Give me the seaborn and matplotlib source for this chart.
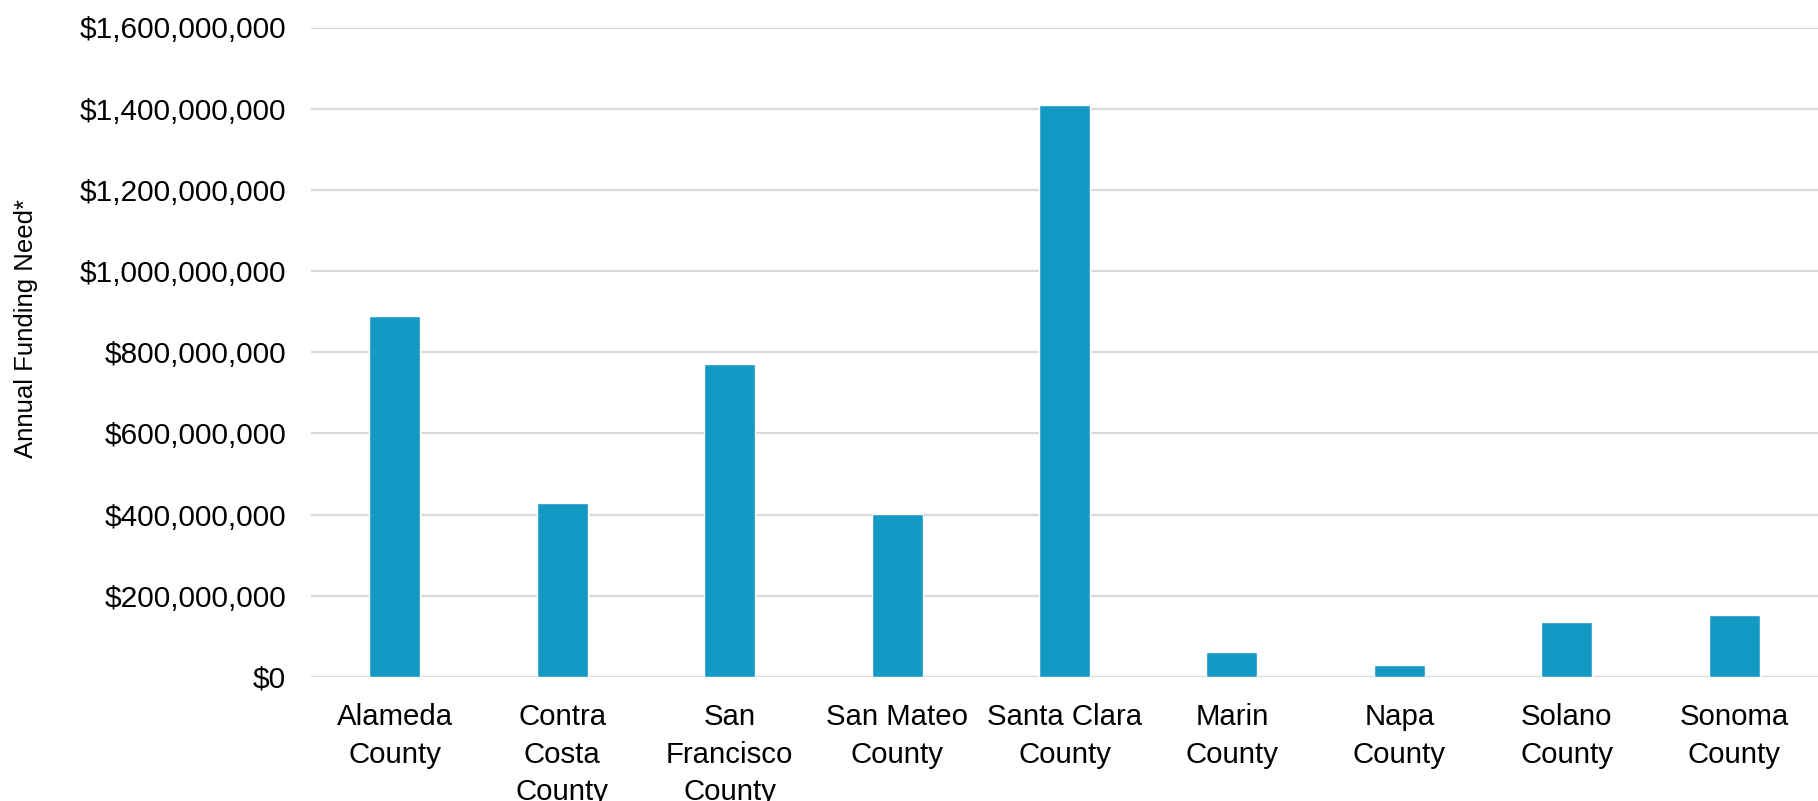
import matplotlib
matplotlib.use("Agg")
import matplotlib.pyplot as plt
import matplotlib.ticker as mticker
import seaborn as sns
import pandas as pd

counties = ["Alameda\nCounty", "Contra\nCosta\nCounty", "San\nFrancisco\nCounty",
            "San Mateo\nCounty", "Santa Clara\nCounty", "Marin\nCounty",
            "Napa\nCounty", "Solano\nCounty", "Sonoma\nCounty"]
funding = [890e6, 429e6, 772e6, 402e6, 1408e6, 61e6, 30e6, 136e6, 152e6]
yticks = [0, 200e6, 400e6, 600e6, 800e6, 1000e6, 1200e6, 1400e6, 1600e6]

sns.set_theme(style="white")
plt.rcParams['font.family'] = ['Liberation Sans', 'DejaVu Sans']

df = pd.DataFrame({"county": counties, "funding": funding})

fig = plt.figure(figsize=(18.18, 8.01), dpi=100)
ax = fig.add_axes([311/1818, 1 - 677/801, 1 - 311/1818, (677 - 27.5)/801])

sns.barplot(data=df, x="county", y="funding", color="#1499C5", saturation=1,
            width=0.305, ax=ax, zorder=3)

ax.set_xlim(-0.5, 8.5)
ax.set_ylim(0, 1.6e9)
ax.set_yticks(yticks)
ax.yaxis.set_major_formatter(mticker.FuncFormatter(lambda v, p: f"${v:,.0f}"))
ax.grid(axis="y", color="#d9d9d9", linewidth=1.6, zorder=0)
ax.grid(axis="x", visible=False)
for s in ax.spines.values():
    s.set_visible(False)

ax.tick_params(axis="y", length=0, pad=18, labelsize=21.5, labelcolor="#000000")
ax.tick_params(axis="x", length=0, pad=19, labelsize=21.2, labelcolor="#000000")
for lab in ax.get_xticklabels():
    lab.set_linespacing(1.42)

ax.set_xlabel("")
ax.set_ylabel("Annual Funding Need*", fontsize=18.5, color="#000000")
ax.yaxis.set_label_coords(-(311 - 38) / (1818 - 311), (677 - 328.7) / (677 - 27.5))

fig.savefig("out.png", dpi=100)
